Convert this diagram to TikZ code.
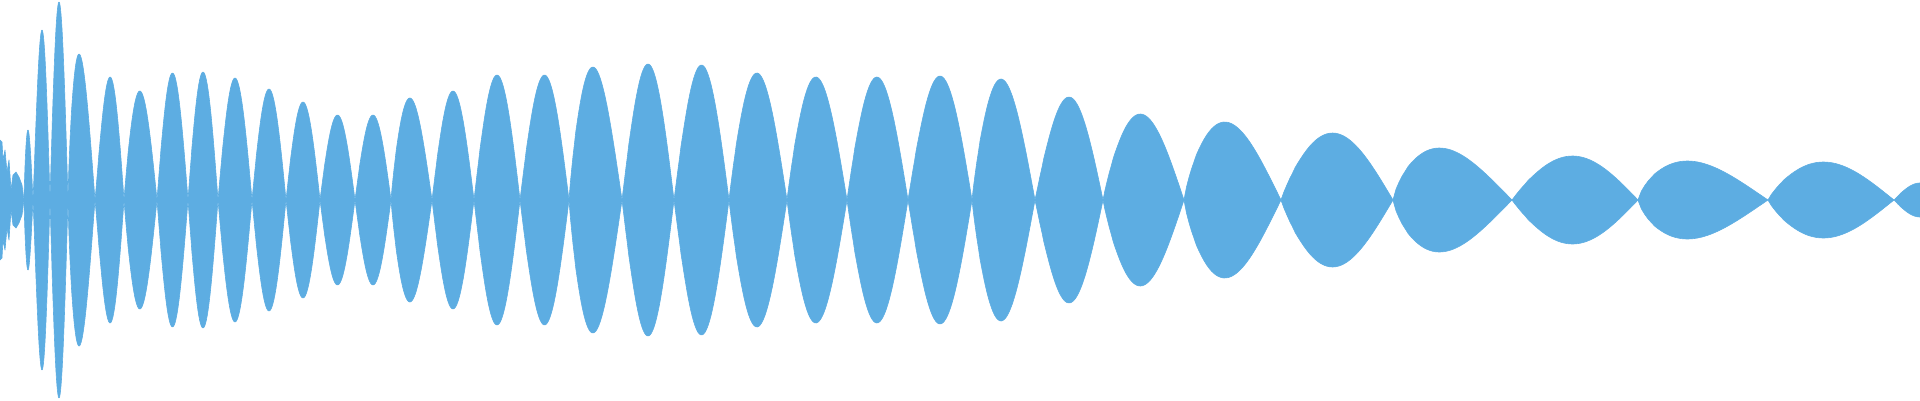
\documentclass[tikz,border=0pt]{standalone}
\definecolor{wavecol}{RGB}{93,173,226}
\tikzset{wave/.style={fill=wavecol,draw=wavecol,line width=0.6pt,line join=round}}
\begin{document}
\begin{tikzpicture}[x=1pt,y=-1pt]
\useasboundingbox (0,0) rectangle (1920,400);
\clip (0,0) rectangle (1920,400);
\fill[wave] (0,140) -- (2,142) -- (3,160) -- (5,150) -- (7,172) -- (9,160) -- (11,190) -- (13,175) -- (16,172) -- (19,177) -- (22,185) -- (24,200)
 -- (22,215) -- (19,223) -- (16,228) -- (13,225) -- (11,210) -- (9,240) -- (7,228) -- (5,250) -- (3,240) -- (2,258) -- (0,260) -- cycle;
\foreach \a/\b/\f/\t in {24/33/0.44/130, 33/50/0.53/30, 50/68/0.5/2, 68/95/0.41/54, 95/124/0.52/77, 124/157/0.48/91,
 157/188/0.5/73, 188/218/0.5/72, 218/252/0.5/78, 252/286/0.5/89, 286/320/0.5/102, 320/355/0.5/115, 355/391/0.5/115,
 391/432/0.46/98, 432/474/0.5/91, 474/520/0.5/75, 520/569/0.5/75, 569/622/0.45/67, 622/674/0.5/64, 674/729/0.5/65,
 729/787/0.48/73, 787/847/0.48/77, 847/908/0.49/77, 908/972/0.5/76, 972/1035/0.46/79, 1035/1103/0.5/97,
 1103/1184/0.46/114, 1184/1281/0.42/122, 1281/1393/0.46/133, 1393/1512/0.39/148, 1512/1638/0.48/156,
 1638/1768/0.38/161, 1768/1894/0.44/162, 1894/1946/0.5/183}{
 \pgfmathsetmacro\k{ln(0.5)/ln(\f)}
 \pgfmathsetmacro\h{200-\t}
 \fill[wave] plot[domain=\a:\b,samples=40] (\x,{200-\h*sin(180*(max((\x-\a)/(\b-\a),0.0001))^\k)})
   -- plot[domain=\b:\a,samples=40] (\x,{200+\h*sin(180*(max((\x-\a)/(\b-\a),0.0001))^\k)}) -- cycle;
}
\end{tikzpicture}
\end{document}
